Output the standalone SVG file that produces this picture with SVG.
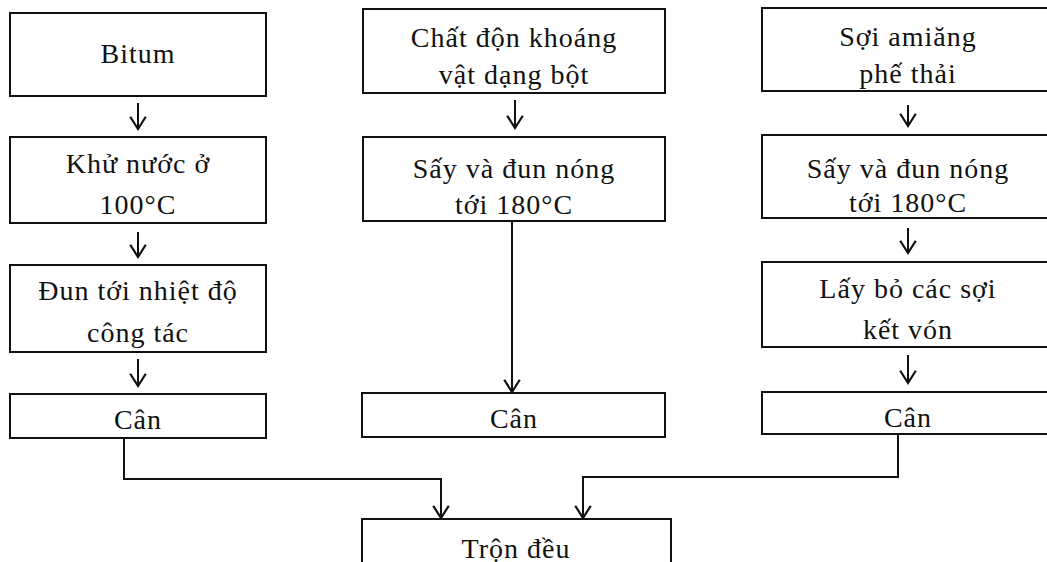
<svg xmlns="http://www.w3.org/2000/svg" width="1047" height="562" viewBox="0 0 1047 562">
<style>
.box{fill:#fff;stroke:#111;stroke-width:2}
.t{font-family:"Liberation Serif","Times New Roman",serif;font-size:28px;letter-spacing:1px;fill:#111;text-anchor:middle}
.c{fill:none;stroke:#111;stroke-width:2}
</style>
<defs>
<marker id="ah" markerUnits="userSpaceOnUse" markerWidth="20" markerHeight="20" viewBox="-13 -9 15 18" refX="0" refY="0" orient="auto">
<path d="M-11,-7 L0,0 L-11,7" fill="none" stroke="#111" stroke-width="2"/>
</marker>
</defs>
<rect width="1047" height="562" fill="#fff"/>
<g id="n-bitum"><rect class="box" x="10" y="13" width="256" height="83"/><text class="t" x="138" y="63">Bitum</text></g>
<g id="n-khunuoc"><rect class="box" x="10" y="137" width="256" height="86"/><text class="t" x="138" y="173">Khử nước ở</text><text class="t" x="138" y="214">100°C</text></g>
<g id="n-dun"><rect class="box" x="10" y="265" width="256" height="87"/><text class="t" x="138" y="300">Đun tới nhiệt độ</text><text class="t" x="138" y="342">công tác</text></g>
<g id="n-can1"><rect class="box" x="10" y="394" width="256" height="44"/><text class="t" x="138" y="429">Cân</text></g>
<g id="n-chatdon"><rect class="box" x="363" y="9" width="302" height="84"/><text class="t" x="514" y="47">Chất độn khoáng</text><text class="t" x="514" y="84">vật dạng bột</text></g>
<g id="n-say1"><rect class="box" x="363" y="137" width="302" height="84"/><text class="t" x="514" y="178">Sấy và đun nóng</text><text class="t" x="514" y="214">tới 180°C</text></g>
<g id="n-can2"><rect class="box" x="362" y="393" width="303" height="44"/><text class="t" x="514" y="428">Cân</text></g>
<g id="n-soi"><rect class="box" x="762" y="8" width="292" height="83"/><text class="t" x="908" y="46">Sợi amiăng</text><text class="t" x="908" y="83">phế thải</text></g>
<g id="n-say2"><rect class="box" x="762" y="135" width="292" height="83"/><text class="t" x="908" y="178">Sấy và đun nóng</text><text class="t" x="908" y="212">tới 180°C</text></g>
<g id="n-layb"><rect class="box" x="762" y="262" width="292" height="85"/><text class="t" x="908" y="298">Lấy bỏ các sợi</text><text class="t" x="908" y="339">kết vón</text></g>
<g id="n-can3"><rect class="box" x="762" y="392" width="292" height="42"/><text class="t" x="908" y="427">Cân</text></g>
<g id="n-tron"><rect class="box" x="362" y="519" width="309" height="60"/><text class="t" x="516" y="558">Trộn đều</text></g>
<g id="connectors">
<path class="c" d="M138,103 V129" marker-end="url(#ah)"/>
<path class="c" d="M138,232 V257" marker-end="url(#ah)"/>
<path class="c" d="M138,359 V386" marker-end="url(#ah)"/>
<path class="c" d="M515,100 V128" marker-end="url(#ah)"/>
<path class="c" d="M512,221 V392" marker-end="url(#ah)"/>
<path class="c" d="M908,105 V126" marker-end="url(#ah)"/>
<path class="c" d="M908,228 V253" marker-end="url(#ah)"/>
<path class="c" d="M908,355 V383" marker-end="url(#ah)"/>
<path class="c" d="M124,438 V479 H441 V518" marker-end="url(#ah)"/>
<path class="c" d="M898,434 V477 H583 V518" marker-end="url(#ah)"/>
</g>
</svg>
